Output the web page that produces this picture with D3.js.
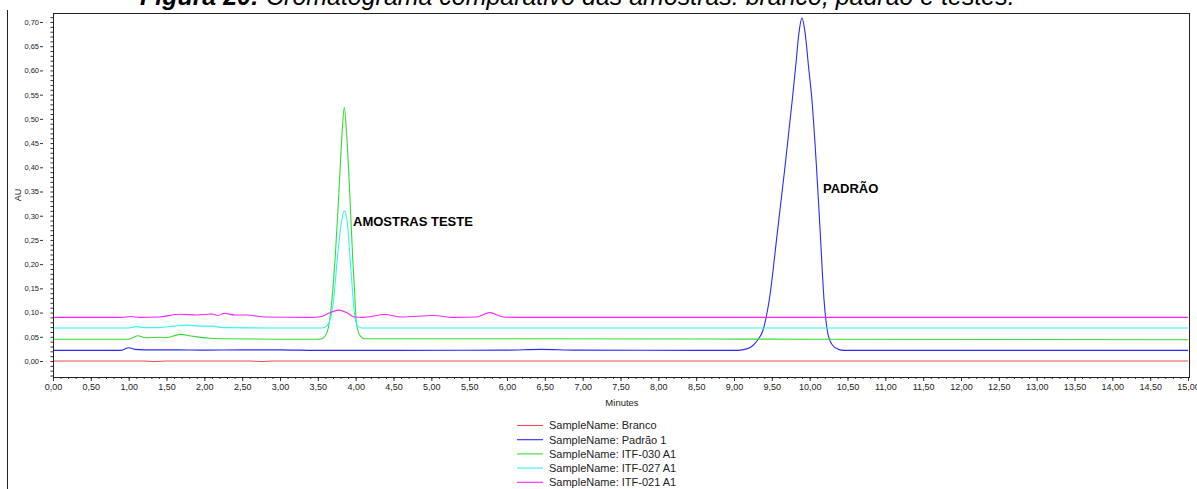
<!DOCTYPE html>
<html>
<head>
<meta charset="utf-8">
<script src="https://cdn.jsdelivr.net/npm/d3@7.9.0/dist/d3.min.js"></script>
<style>
  body { margin: 0; background: #fff; }
  svg { display: block; font-family: "Liberation Sans", Arial, sans-serif; }
</style>
</head>
<body>
<svg id="chart" width="1197" height="489"></svg>
<script>
/* ---------- data (minutes, AU) ---------- */
const branco = [
  [0, 0.000], [1.20, 0.000], [1.35, -0.001], [1.50, 0.000], [2.60, 0.000],
  [2.75, -0.001], [2.90, 0.000], [6.00, 0.000], [15.00, 0.000]
];

const padrao = [
  [0, 0.022], [0.90, 0.022], [1.00, 0.0275], [1.08, 0.024], [1.20, 0.023],
  [1.60, 0.023], [2.00, 0.0225], [2.50, 0.023], [3.00, 0.023], [3.50, 0.022],
  [4.50, 0.022], [6.00, 0.0225], [6.45, 0.024], [6.90, 0.0225], [8.50, 0.022],
  [9.05, 0.022], [9.17, 0.025], [9.25, 0.032], [9.32, 0.045], [9.38, 0.062],
  [9.466, 0.126], [9.572, 0.264], [9.674, 0.401], [9.77, 0.539], [9.815, 0.608],
  [9.858, 0.677], [9.898, 0.708], [9.94, 0.677], [9.985, 0.608], [10.03, 0.539],
  [10.09, 0.401], [10.14, 0.264], [10.19, 0.126], [10.24, 0.057], [10.30, 0.033],
  [10.38, 0.024], [10.45, 0.022], [15.00, 0.022]
];

const itf030 = [
  [0, 0.045], [1.00, 0.045], [1.12, 0.052], [1.22, 0.048], [1.40, 0.049],
  [1.50, 0.048], [1.68, 0.055], [1.85, 0.051], [2.07, 0.047], [2.20, 0.046],
  [3.00, 0.045], [3.50, 0.045], [3.55, 0.046], [3.60, 0.052], [3.65, 0.078],
  [3.70, 0.150], [3.73, 0.215], [3.78, 0.353], [3.82, 0.470], [3.85, 0.524],
  [3.88, 0.470], [3.92, 0.353], [3.96, 0.215], [3.99, 0.130], [4.01, 0.078],
  [4.06, 0.052], [4.12, 0.046], [6.00, 0.046], [10.00, 0.045], [15.00, 0.044]
];

const itf027 = [
  [0, 0.068], [1.00, 0.068], [1.10, 0.071], [1.20, 0.069], [1.40, 0.069],
  [1.60, 0.072], [1.77, 0.074], [1.95, 0.072], [2.10, 0.072], [2.25, 0.069],
  [3.00, 0.068], [3.55, 0.068], [3.60, 0.070], [3.65, 0.080], [3.70, 0.115],
  [3.76, 0.215], [3.81, 0.285], [3.85, 0.310], [3.89, 0.285], [3.925, 0.215],
  [3.96, 0.140], [3.99, 0.090], [4.03, 0.072], [4.08, 0.068], [15.00, 0.068]
];

const itf021 = [
  [0, 0.090], [0.90, 0.090], [1.03, 0.092], [1.15, 0.090], [1.40, 0.091],
  [1.68, 0.0964], [1.90, 0.095], [2.10, 0.097], [2.18, 0.094], [2.26, 0.0985],
  [2.40, 0.095], [2.56, 0.095], [2.80, 0.091], [3.40, 0.090], [3.55, 0.092],
  [3.65, 0.099], [3.78, 0.105], [3.88, 0.100], [3.98, 0.091], [4.10, 0.090],
  [4.39, 0.096], [4.60, 0.091], [5.02, 0.094], [5.30, 0.090], [5.60, 0.091],
  [5.77, 0.0998], [5.95, 0.091], [6.20, 0.090], [15.00, 0.090]
];

const seriesNames  = ['SampleName: Branco', 'SampleName: Padrão 1', 'SampleName: ITF-030 A1',
                      'SampleName: ITF-027 A1', 'SampleName: ITF-021 A1'];
const seriesData   = [branco, padrao, itf030, itf027, itf021];
const seriesColors = ['#ff4a4a', '#2a2aff', '#33dd33', '#33f5f5', '#ff22ff'];

const xMajor = d3.range(0, 15.001, 0.5);
const yMajor = d3.range(0, 0.7001, 0.05);

/* ---------- layout ---------- */
const svg = d3.select('#chart');
const area = { l: 53, r: 1189, t: 13, b: 377 };

const x = d3.scaleLinear().domain([0, 15]).range([53, 1188]);
const y = d3.scaleLinear().domain([0, 0.70]).range([361, 22]);

const loc = d3.formatLocale({ decimal: ',', thousands: '.', grouping: [3], currency: ['', ''] });
const fmt = loc.format('.2f');

/* ---------- title (cut at top of the page) ---------- */
const title = svg.append('text')
  .attr('x', 140).attr('y', 4.5)
  .attr('font-size', 22).attr('fill', '#000');
title.append('tspan').attr('font-weight', 'bold').attr('font-style', 'italic').text('Figura 20: ');
title.append('tspan').attr('font-style', 'italic')
  .text('Cromatograma comparativo das amostras: branco, padrão e testes.');
const tw = title.node().getComputedTextLength();
title.attr('font-size', 22 * 875 / tw);

/* page border on the left */
svg.append('line')
  .attr('x1', 7.5).attr('x2', 7.5).attr('y1', 10).attr('y2', 489)
  .attr('stroke', '#222').attr('stroke-width', 1);

/* ---------- axes ---------- */
const gx = svg.append('g').attr('transform', `translate(0,${area.b})`);
gx.call(d3.axisBottom(x).tickValues(d3.range(0, 15.001, 0.1)).tickSize(2).tickFormat(''));
gx.call(g => g.select('.domain').remove());
const gx2 = svg.append('g').attr('transform', `translate(0,${area.b})`)
  .call(d3.axisBottom(x).tickValues(xMajor).tickSize(4).tickPadding(3).tickFormat(fmt));
gx2.select('.domain').remove();
gx2.selectAll('text').attr('font-size', 9).attr('fill', '#222');
svg.selectAll('.tick line').attr('stroke', '#333');

const gy = svg.append('g').attr('transform', `translate(${area.l},0)`)
  .call(d3.axisLeft(y).tickValues(d3.range(-0.03, 0.7101, 0.01)).tickSize(2.5).tickFormat(''));
gy.select('.domain').remove();
gy.selectAll('line').attr('stroke', '#333');

const gy2 = svg.append('g').attr('transform', `translate(${area.l},0)`)
  .call(d3.axisLeft(y).tickValues(yMajor).tickSize(0).tickPadding(14).tickFormat(fmt));
gy2.select('.domain').remove();
gy2.selectAll('text').attr('font-size', 7.5).attr('fill', '#222');
gy2.selectAll('.tick').append('line')
  .attr('x1', -13).attr('x2', -10).attr('stroke', '#333');

svg.append('text')
  .attr('x', 622).attr('y', 406).attr('text-anchor', 'middle')
  .attr('font-size', 9.5).attr('fill', '#222').text('Minutes');

svg.append('text')
  .attr('transform', 'translate(21,195) rotate(-90)')
  .attr('text-anchor', 'middle').attr('font-size', 9).attr('fill', '#222').text('AU');

/* ---------- traces ---------- */
svg.append('clipPath').attr('id', 'clip')
  .append('rect').attr('x', area.l).attr('y', area.t)
  .attr('width', area.r - area.l).attr('height', area.b - area.t);

const line = d3.line()
  .x(d => x(d[0])).y(d => y(d[1]))
  .curve(d3.curveMonotoneX);

svg.append('g').attr('clip-path', 'url(#clip)')
  .selectAll('path')
  .data(seriesData)
  .join('path')
  .attr('d', line)
  .attr('fill', 'none')
  .attr('stroke', (d, i) => seriesColors[i])
  .attr('stroke-width', 1.1);

/* frame */
svg.append('rect')
  .attr('x', area.l + 0.5).attr('y', area.t + 0.5)
  .attr('width', area.r - area.l).attr('height', area.b - area.t)
  .attr('fill', 'none').attr('stroke', '#222').attr('stroke-width', 1);

/* ---------- annotations ---------- */
svg.append('text').attr('x', 353).attr('y', 226)
  .attr('font-size', 13).attr('font-weight', 'bold').text('AMOSTRAS TESTE');
svg.append('text').attr('x', 823).attr('y', 193)
  .attr('font-size', 13).attr('font-weight', 'bold').text('PADRÃO');

/* ---------- legend ---------- */
const legend = svg.append('g')
  .selectAll('g')
  .data(seriesNames)
  .join('g')
  .attr('transform', (d, i) => `translate(517,${425.5 + i * 14.2})`);

legend.append('line')
  .attr('x1', 0).attr('x2', 26)
  .attr('stroke', (d, i) => seriesColors[i]).attr('stroke-width', 1.1);
legend.append('text')
  .attr('x', 32).attr('dy', '0.36em')
  .attr('font-size', 11).attr('fill', '#222')
  .text(d => d);
</script>
</body>
</html>
